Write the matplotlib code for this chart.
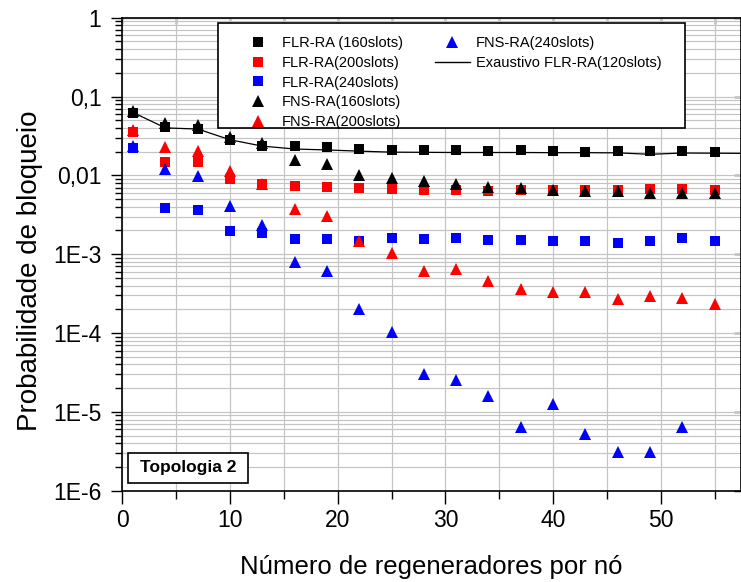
import numpy as np
import matplotlib
matplotlib.use('Agg')
import matplotlib.pyplot as plt
from matplotlib.lines import Line2D
from matplotlib.patches import Rectangle
from matplotlib.ticker import MultipleLocator, FixedLocator, FuncFormatter, LogLocator, NullLocator, NullFormatter

plt.rcParams['font.family'] = ['Liberation Sans', 'DejaVu Sans']

# regeneradores por no
x = [1, 4, 7, 10, 13, 16, 19, 22, 25, 28, 31, 34, 37, 40, 43, 46, 49, 52, 55, 58]

flr_160 = [0.0627, 0.0405, 0.0387, 0.0283, 0.0233, 0.0233, 0.0229, 0.0216, 0.0211, 0.0211,
           0.0211, 0.0205, 0.0207, 0.0201, 0.0198, 0.0205, 0.0201, 0.0201, 0.0198, np.nan]
flr_200 = [0.035, 0.0146, 0.0146, 0.0090, 0.0078, 0.0074, 0.0071, 0.0069, 0.0068, 0.0066,
           0.0066, 0.0063, 0.0066, 0.0066, 0.0066, 0.0066, 0.0067, 0.0067, 0.0066, np.nan]
flr_240 = [0.0222, 0.00387, 0.00368, 0.00195, 0.00187, 0.00157, 0.00157, 0.00146, 0.00161, 0.00157,
           0.00161, 0.00150, 0.00153, 0.00146, 0.00146, 0.00139, 0.00146, 0.00161, 0.00146, np.nan]
fns_160 = [0.0646, 0.046, 0.0438, 0.0303, 0.0257, 0.0158, 0.0141, 0.0102, 0.0093, 0.0084,
           0.00785, 0.00713, 0.0069, 0.00645, 0.00627, 0.00627, 0.00598, 0.0060, 0.0060, 0.0054]
fns_200 = [0.0371, 0.0229, 0.0205, 0.0112, 0.0078, 0.00376, 0.00303, 0.00146, 0.00104, 0.00061,
           0.00064, 0.000455, 0.000357, 0.000334, 0.000334, 0.000272, 0.000294, 0.000281, 0.000231, 0.000245]
fns_240 = [0.0238, 0.012, 0.0097, 0.00405, 0.00238, 0.00079, 0.00061, 0.0002, 0.000103, 3.0e-5,
           2.52e-5, 1.6e-5, 6.35e-6, 1.25e-5, 5.2e-6, 3.1e-6, 3.1e-6, 6.35e-6, np.nan, 1.88e-6]
exaustivo_120 = [0.0627, 0.040, 0.0387, 0.0283, 0.0235, 0.0216, 0.021, 0.0203, 0.0197, 0.0196,
                 0.0195, 0.0195, 0.0195, 0.0194, 0.0194, 0.0193, 0.0185, 0.0192, 0.0191, 0.019]

y_ticks = [1e-6, 1e-5, 1e-4, 1e-3, 1e-2, 1e-1, 1]
y_tick_labels = ['1E-6', '1E-5', '1E-4', '1E-3', '0,01', '0,1', '1']

W, H = 741, 582
fig = plt.figure(figsize=(W / 100, H / 100), dpi=100)
ax = fig.add_axes([122.3 / W, 91.3 / H, 618.7 / W, 473.0 / H])
ax.set_yscale('log')

ax.plot(x, exaustivo_120, '-', color='black', lw=0.9, zorder=2, clip_on=False)
series = [
    (flr_160, 's', 'black', 'FLR-RA (160slots)'),
    (flr_200, 's', 'red', 'FLR-RA(200slots)'),
    (flr_240, 's', 'blue', 'FLR-RA(240slots)'),
    (fns_160, '^', 'black', 'FNS-RA(160slots)'),
    (fns_200, '^', 'red', 'FNS-RA(200slots)'),
    (fns_240, '^', 'blue', 'FNS-RA(240slots)'),
]
handles = []
for vals, mk, col, lab in series:
    ms = 7.3 if mk == 's' else 9.3
    ax.plot(x, vals, linestyle='none', marker=mk, color=col, markersize=ms,
            markeredgewidth=0, zorder=3, clip_on=False)
    handles.append(Line2D([], [], linestyle='none', marker=mk, color=col,
                          markersize=ms, markeredgewidth=0, label=lab))

ax.set_xlim(0, 57.45)
ax.set_ylim(1e-6, 1)

ax.xaxis.set_major_locator(MultipleLocator(10))
ax.xaxis.set_minor_locator(MultipleLocator(5))
ax.yaxis.set_major_locator(FixedLocator(y_ticks))
ax.yaxis.set_major_formatter(FuncFormatter(lambda v, p: y_tick_labels[y_ticks.index(v)] if v in y_ticks else ''))
ax.yaxis.set_minor_locator(LogLocator(base=10, subs=np.arange(2, 10), numticks=20))
ax.yaxis.set_minor_formatter(NullFormatter())

ax.tick_params(which='major', direction='out', length=8, width=1, labelsize=16.5)
ax.tick_params(which='minor', direction='out', length=5, width=1)
ax.tick_params(axis='y', which='major', pad=7)
ax.tick_params(axis='x', which='major', length=9, pad=4)
ax.tick_params(axis='x', which='minor', length=6)

ax.grid(which='both', color='#c4c4c4', lw=0.85, zorder=0)
ax.set_axisbelow(True)
for s in ax.spines.values():
    s.set_linewidth(1.2)

top = ax.secondary_xaxis('top')
top.xaxis.set_major_locator(MultipleLocator(5))
top.tick_params(direction='in', length=4, width=1, labeltop=False)
right = ax.secondary_yaxis('right')
right.yaxis.set_major_locator(FixedLocator(y_ticks))
right.yaxis.set_minor_locator(NullLocator())
right.tick_params(direction='in', length=5, width=1, labelright=False)

ax.set_xlabel('Número de regeneradores por nó', fontsize=18.5, labelpad=17)
ax.set_ylabel('Probabilidade de bloqueio', fontsize=20)
ax.yaxis.set_label_coords(-0.128, 0.466)

# legend: white box drawn by hand, entries placed without frame
ax.add_patch(Rectangle((218 / W, 1 - 128.3 / H), (685 - 218) / W, (128.3 - 22.7) / H,
                       transform=fig.transFigure, facecolor='white', edgecolor='black',
                       lw=1.2, zorder=4, clip_on=False))
exaustivo_handle = Line2D([], [], color='black', lw=1, label='Exaustivo FLR-RA(120slots)')
blank = [Line2D([], [], linestyle='none', label='') for _ in range(3)]
leg_handles = handles[:5] + [handles[5], exaustivo_handle] + blank
leg = ax.legend(handles=leg_handles, ncol=2, loc='upper left',
                bbox_to_anchor=(240 / W, 1 - 36.5 / H), bbox_transform=fig.transFigure,
                fontsize=10.5, frameon=False, borderpad=0, labelspacing=0.38,
                handlelength=2.4, handletextpad=0.45, columnspacing=2.2,
                numpoints=1, borderaxespad=0)
leg.set_zorder(5)

ax.add_patch(Rectangle((0.0097, 0.0169), 0.194, 0.0635, transform=ax.transAxes,
                       facecolor='white', edgecolor='black', lw=1.2, zorder=5))
ax.text(0.1067, 0.0487, 'Topologia 2', transform=ax.transAxes, ha='center', va='center',
        fontsize=12.5, fontweight='bold', zorder=6)

fig.savefig('out.png', dpi=100)
